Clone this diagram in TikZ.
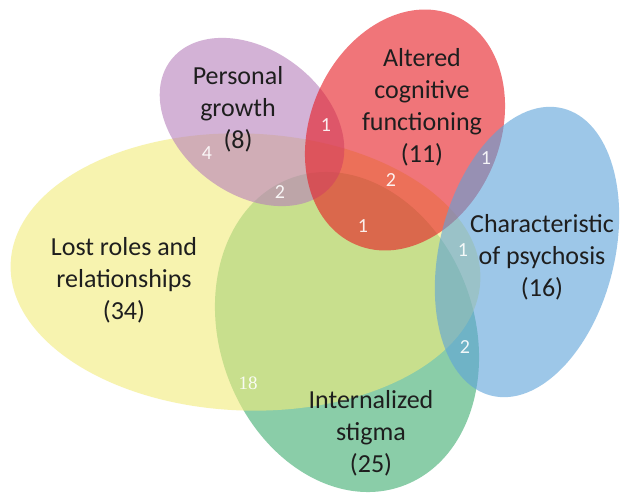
\documentclass[tikz,border=0pt]{standalone}
\usepackage{fontspec}
\setmainfont{Carlito}
\newfontfamily\numserif{Liberation Serif}
\definecolor{yellowc}{RGB}{242,235,123}
\definecolor{greenc}{RGB}{60,172,110}
\definecolor{purplec}{RGB}{182,127,187}
\definecolor{redc}{RGB}{230,25,33}
\definecolor{bluec}{RGB}{93,162,218}
\definecolor{txt}{RGB}{30,30,30}
\tikzset{
  setfill/.style={fill=#1, fill opacity=0.6},
  biglabel/.style={text=txt, align=center, font=\fontsize{26}{32}\selectfont, inner sep=0pt},
  numlabel/.style={text=white, text opacity=0.9, font=\fontsize{20}{22}\selectfont, inner sep=0pt}
}
\begin{document}
\begin{tikzpicture}[x=1pt,y=-1pt]
\useasboundingbox (0,0) rectangle (622,493);
\fill[white] (0,0) rectangle (622,493);
% sets
\fill[setfill=greenc, rotate around={19.7:(347,332)}] (347,332) ellipse [x radius=127.4pt, y radius=163.7pt];
\fill[setfill=yellowc, rotate around={-2:(245.5,272)}] (245.5,272) ellipse [x radius=235pt, y radius=138.5pt];
\fill[setfill=purplec, rotate around={-37:(252,122)}] (252,122) ellipse [x radius=102pt, y radius=72pt];
\fill[setfill=redc, rotate around={-23.4:(405,130)}] (405,130) ellipse [x radius=94.7pt, y radius=124.7pt];
\fill[setfill=bluec, rotate around={-14:(527,252)}] (527,252) ellipse [x radius=87.5pt, y radius=148pt];
% set labels
\node[biglabel] (pg) at (238,109) {Personal\\growth\\(8)};
\node[biglabel] (ac) at (422,107) {Altered\\cognitive\\functioning\\(11)};
\node[biglabel] (lr) at (124,280) {Lost roles and\\relationships\\(34)};
\node[biglabel] (cp) at (542,257) {Characteristic\\of psychosis\\(16)};
\node[biglabel] (is) at (371,433) {Internalized\\stigma\\(25)};
% overlap counts
\node[numlabel] (n1) at (207,153) {4};
\node[numlabel] (n2) at (280,192) {2};
\node[numlabel] (n3) at (326,125) {1};
\node[numlabel] (n4) at (391,180) {2};
\node[numlabel] (n5) at (363,226) {1};
\node[numlabel] (n6) at (486,158) {1};
\node[numlabel] (n7) at (463,250) {1};
\node[numlabel] (n8) at (465,347) {2};
\node[numlabel, font=\numserif\fontsize{19}{22}\selectfont] (n9) at (248,383) {18};
\end{tikzpicture}
\end{document}
